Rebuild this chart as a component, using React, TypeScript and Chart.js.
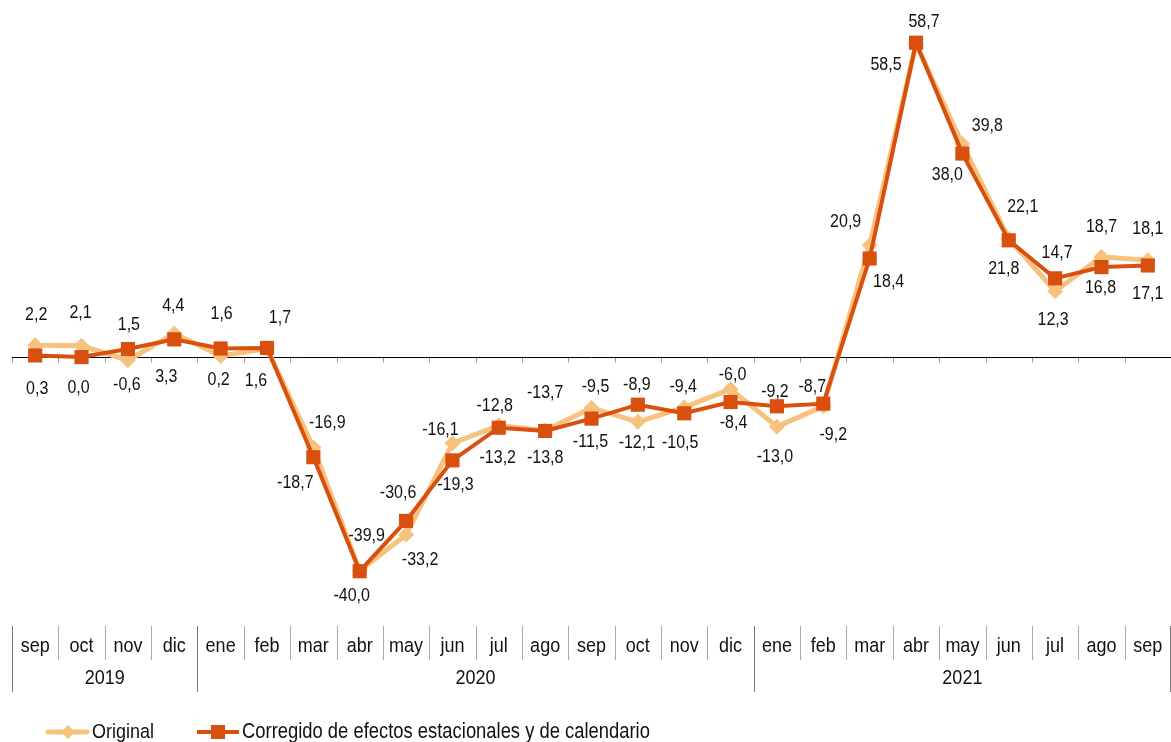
import React, { useEffect, useRef } from "react";
import { Chart, registerables } from "chart.js";

Chart.register(...registerables);

const months = ["sep", "oct", "nov", "dic", "ene", "feb", "mar", "abr", "may", "jun", "jul", "ago", "sep", "oct", "nov", "dic", "ene", "feb", "mar", "abr", "may", "jun", "jul", "ago", "sep"];
const yearLabels = ["2019", "2020", "2021"];
const yearFirst = [0, 4, 16];
const yearLast = [3, 15, 24];

const original = [2.2, 2.1, -0.6, 4.4, 0.2, 1.6, -16.9, -39.9, -33.2, -16.1, -12.8, -13.7, -9.5, -12.1, -9.4, -6.0, -13.0, -9.2, 20.9, 58.5, 39.8, 22.1, 12.3, 18.7, 18.1];
const corrected = [0.3, 0.0, 1.5, 3.3, 1.6, 1.7, -18.7, -40.0, -30.6, -19.3, -13.2, -13.8, -11.5, -8.9, -10.5, -8.4, -9.2, -8.7, 18.4, 58.7, 38.0, 21.8, 14.7, 16.8, 17.1];

const seriesNames = ["Original", "Corregido de efectos estacionales y de calendario"];

// label offsets relative to each point (dx, dy)
const origLabelOffsets = [[1, -30], [-1, -33], [-1, 25], [-1, -28], [-2, 24], [-11, 32], [14, -25], [7, -35], [14, 25], [-12, -13], [-4, -20], [0, -37], [4, -21], [-1, 21], [-1, -20], [2, -14], [-2, 30], [10, 29], [-24, -23], [-30, 21], [25, -18], [14, -32], [-2, 29], [0, -30], [0, -31]];
const corrLabelOffsets = [[2, 33], [-3, 31], [1, -24], [-8, 38], [1, -35], [13, -30], [-18, 26], [-8, 25], [-8, -28], [3, 25], [-1, 30], [0, 27], [-1, 23], [-1, -20], [-4, 30], [3, 21], [-2, -14], [-11, -17], [19, 23], [8, -21], [-15, 21], [-5, 29], [2, -25], [-1, 21], [0, 28]];

const ORIG_COLOR = "#F6C27E";
const CORR_COLOR = "#D9500E";
const FONT = "Liberation Sans, Arial, sans-serif";
const SY = 1.15;

function txt(ctx: CanvasRenderingContext2D, s: string, x: number, y: number, align: CanvasTextAlign, size: number) {
  ctx.save();
  ctx.translate(x, y);
  ctx.scale(1, SY);
  ctx.font = `${size}px ${FONT}`;
  ctx.fillStyle = "#111";
  ctx.textAlign = align;
  ctx.textBaseline = "middle";
  ctx.fillText(s, 0, 0);
  ctx.restore();
}

const fmt = (v: number) => v.toFixed(1).replace(".", ",");

const decorPlugin = {
  id: "decor",
  beforeDatasetsDraw(chart: any) {
    const ctx = chart.ctx as CanvasRenderingContext2D;
    const x = chart.scales.x;
    const y = chart.scales.y;
    const y0 = Math.round(y.getPixelForValue(0)) + 0.5;
    const left = chart.chartArea.left;
    const right = chart.chartArea.right;
    const step = (right - left) / months.length;
    ctx.save();
    ctx.strokeStyle = "#999";
    ctx.lineWidth = 1;
    for (let i = 0; i <= months.length; i++) {
      const xp = Math.round(x.getPixelForValue(Math.min(i, months.length - 1)) + (i === months.length ? step / 2 : -step / 2)) + 0.5;
      ctx.beginPath();
      ctx.moveTo(xp, y0);
      ctx.lineTo(xp, y0 + 5);
      ctx.stroke();
    }
    ctx.strokeStyle = "#000";
    ctx.beginPath();
    ctx.moveTo(left, y0);
    ctx.lineTo(right, y0);
    ctx.stroke();
    ctx.restore();
  },
  afterDraw(chart: any) {
    const ctx = chart.ctx as CanvasRenderingContext2D;
    const x = chart.scales.x;
    const left = chart.chartArea.left;
    const right = chart.chartArea.right;
    const step = (right - left) / months.length;
    const bound = (i: number) => (i < months.length ? x.getPixelForValue(i) - step / 2 : x.getPixelForValue(months.length - 1) + step / 2);

    // category table
    const top = 626, mid = 660, bot = 692;
    ctx.save();
    ctx.lineWidth = 1;
    for (let i = 0; i <= months.length; i++) {
      const xp = Math.min(Math.round(bound(i)) + 0.5, 1170.5);
      const isYear = i === 0 || i === months.length || yearFirst.includes(i);
      ctx.strokeStyle = isYear ? "#777" : "#aaa";
      ctx.beginPath();
      ctx.moveTo(xp, top);
      ctx.lineTo(xp, isYear ? bot : mid);
      ctx.stroke();
    }
    ctx.restore();
    months.forEach((m, i) => txt(ctx, m, x.getPixelForValue(i), 646, "center", 18));
    yearLabels.forEach((yl, k) => {
      const cx = (bound(yearFirst[k]) + bound(yearLast[k] + 1)) / 2;
      txt(ctx, yl, cx, 678, "center", 18);
    });

    // data labels
    const metaCorr = chart.getDatasetMeta(0);
    const metaOrig = chart.getDatasetMeta(1);
    original.forEach((v, i) => {
      const p = metaOrig.data[i];
      txt(ctx, fmt(v), p.x + origLabelOffsets[i][0], p.y + origLabelOffsets[i][1], "center", 16);
    });
    corrected.forEach((v, i) => {
      const p = metaCorr.data[i];
      txt(ctx, fmt(v), p.x + corrLabelOffsets[i][0], p.y + corrLabelOffsets[i][1], "center", 16);
    });

    // legend
    const ly = 732;
    ctx.save();
    ctx.lineCap = "round";
    ctx.strokeStyle = ORIG_COLOR;
    ctx.lineWidth = 5;
    ctx.beginPath();
    ctx.moveTo(48, ly);
    ctx.lineTo(87, ly);
    ctx.stroke();
    ctx.fillStyle = ORIG_COLOR;
    ctx.beginPath();
    ctx.moveTo(68 - 7, ly);
    ctx.lineTo(68, ly - 7);
    ctx.lineTo(68 + 7, ly);
    ctx.lineTo(68, ly + 7);
    ctx.closePath();
    ctx.fill();
    ctx.strokeStyle = CORR_COLOR;
    ctx.lineWidth = 4;
    ctx.lineCap = "butt";
    ctx.beginPath();
    ctx.moveTo(197, ly);
    ctx.lineTo(239, ly);
    ctx.stroke();
    ctx.fillStyle = CORR_COLOR;
    ctx.fillRect(218 - 7, ly - 7, 14, 14);
    ctx.restore();
    txt(ctx, seriesNames[0], 92, ly, "left", 18);
    txt(ctx, seriesNames[1], 242, ly, "left", 18.4);
  },
};

export default function App() {
  const ref = useRef<HTMLCanvasElement>(null);
  useEffect(() => {
    if (!ref.current) return;
    const chart = new Chart(ref.current, {
      type: "line",
      data: {
        labels: months,
        datasets: [
          {
            label: seriesNames[1],
            data: corrected,
            borderColor: CORR_COLOR,
            backgroundColor: CORR_COLOR,
            borderWidth: 4,
            pointStyle: "rect",
            pointRadius: 10,
            pointBorderWidth: 0,
            pointBackgroundColor: CORR_COLOR,
            tension: 0,
            clip: false,
          },
          {
            label: seriesNames[0],
            data: original,
            borderColor: ORIG_COLOR,
            backgroundColor: ORIG_COLOR,
            borderWidth: 5,
            pointStyle: "rectRot",
            pointRadius: 8,
            pointBorderWidth: 0,
            pointBackgroundColor: ORIG_COLOR,
            tension: 0,
            clip: false,
          },
        ],
      },
      options: {
        responsive: false,
        animation: false,
        events: [],
        layout: { autoPadding: false, padding: { left: 12, right: 0, top: 9, bottom: 144 } },
        scales: {
          x: { type: "category", offset: true, display: false },
          y: { min: -45, max: 65, display: false },
        },
        plugins: {
          legend: { display: false },
          tooltip: { enabled: false },
        },
      },
      plugins: [decorPlugin],
    } as any);
    return () => chart.destroy();
  }, []);
  return (
    <div style={{ position: "fixed", left: 0, top: 0, width: 1171, height: 742, background: "#fff" }}>
      <canvas ref={ref} width={1171} height={742} style={{ width: 1171, height: 742, display: "block" }} />
    </div>
  );
}
